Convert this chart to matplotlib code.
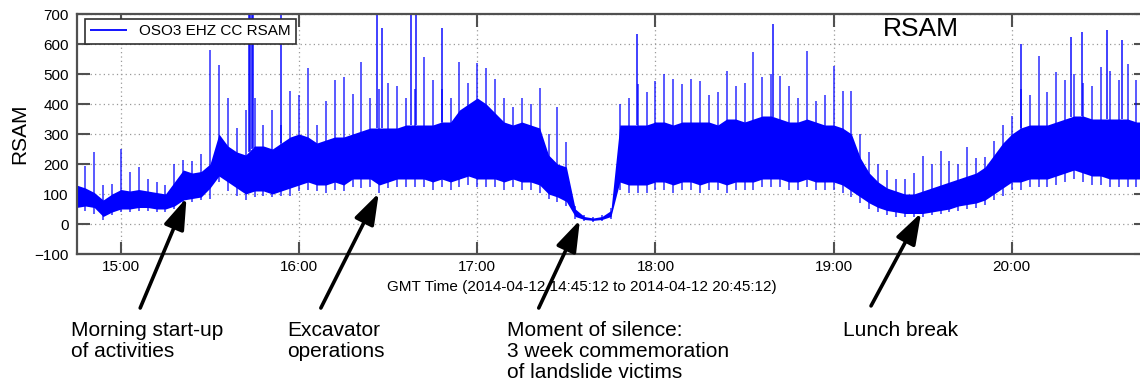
#!/usr/bin/env python3
# -*- coding: utf-8 -*-
"""RSAM of station OSO3 (EHZ CC), 2014-04-12, with activity annotations."""
import numpy as np
import matplotlib
matplotlib.use('Agg')
import matplotlib.pyplot as plt
from matplotlib.ticker import FuncFormatter, MultipleLocator

plt.rcParams['font.family'] = ['Liberation Sans', 'DejaVu Sans']

# ---- data: 3-minute bins, 14:45 .. 20:45 GMT ----
T_START = 14.75          # hours
STEP_MIN = 3

# lower edge of the dense band
band_lo = [
    55, 60, 55, 25, 40,
    50, 50, 55, 55, 50, 50, 60, 80, 85, 90, 120, 160, 140, 120, 100, 110, 110, 100, 110, 120,
    130, 140, 130, 130, 140, 130, 150, 150, 150, 130, 140, 150, 150, 150, 150, 140, 150, 140, 150, 160,
    150, 150, 150, 140, 150, 140, 140, 130, 100, 90, 75, 25, 15, 12, 15, 25, 140, 130, 130, 130,
    140, 140, 130, 140, 140, 130, 140, 140, 130, 140, 140, 140, 150, 150, 150, 140, 140, 150, 140, 140,
    140, 130, 110, 90, 70, 55, 45, 40, 35, 35, 35, 40, 45, 50, 60, 65, 70, 80, 100, 120,
    140, 140, 150, 150, 150, 160, 170, 180, 170, 160, 160, 150, 150, 150, 150, 150,
]
# upper edge of the dense band
band_hi = [
    130, 120, 105, 80, 100,
    115, 110, 115, 110, 105, 100, 140, 180, 170, 175, 200, 300, 260, 240, 230, 260, 260, 250, 270, 290,
    300, 290, 270, 280, 290, 290, 300, 310, 320, 320, 320, 320, 330, 330, 330, 330, 340, 340, 380, 400,
    420, 400, 370, 340, 330, 340, 330, 320, 230, 200, 190, 50, 25, 20, 25, 45, 330, 330, 330, 330,
    340, 340, 330, 340, 340, 340, 340, 330, 350, 350, 340, 350, 360, 360, 350, 340, 340, 350, 340, 330,
    330, 320, 300, 220, 170, 140, 120, 110, 100, 100, 110, 120, 130, 140, 150, 160, 170, 190, 230, 270,
    300, 320, 330, 330, 330, 340, 350, 360, 360, 350, 350, 350, 350, 350, 340, 340,
]
# highest spike in each bin
peak = [
    200, 195, 240, 130, 135,
    250, 175, 190, 150, 140, 130, 200, 215, 210, 235, 580, 530, 420, 320, 380, 420, 330, 380, 330, 445,
    430, 520, 330, 410, 480, 490, 435, 540, 420, 450, 470, 460, 420, 450, 558, 480, 450, 420, 541, 470,
    536, 519, 485, 420, 390, 419, 400, 452, 300, 391, 275, 60, 30, 25, 30, 55, 400, 420, 467, 440,
    478, 500, 483, 467, 483, 478, 430, 440, 511, 460, 470, 572, 489, 500, 494, 461, 420, 578, 411, 430,
    528, 444, 444, 300, 240, 200, 180, 150, 150, 170, 228, 200, 244, 210, 200, 256, 220, 222, 278, 330,
    361, 450, 430, 561, 440, 506, 480, 500, 470, 460, 522, 510, 480, 533, 480, 460,
]
# lowest dip in each bin
trough = [
    40, 45, 35, 15, 30,
    40, 40, 45, 45, 40, 40, 50, 70, 75, 80, 85, 140, 110, 95, 80, 90, 95, 90, 95, 95,
    110, 115, 110, 105, 115, 110, 125, 120, 125, 105, 120, 125, 125, 125, 125, 115, 125, 115, 125, 130,
    125, 125, 125, 115, 125, 115, 115, 105, 85, 75, 60, 18, 10, 8, 10, 18, 115, 105, 105, 105,
    115, 115, 105, 115, 115, 105, 115, 115, 105, 115, 115, 115, 125, 125, 125, 115, 115, 125, 115, 115,
    115, 105, 90, 70, 50, 40, 30, 25, 25, 25, 25, 30, 35, 40, 45, 50, 55, 65, 80, 95,
    115, 115, 125, 125, 125, 130, 140, 150, 140, 130, 130, 125, 125, 125, 125, 125,
]

# isolated tall spikes
spike_time = ['15:43:00', '15:43:30', '15:44:00', '15:44:30', '15:53:54', '16:26:06', '16:27:48',
              '16:37:48', '16:39:30', '16:48:00', '17:53:42', '18:39:42', '20:03:06', '20:19:54',
              '20:23:42', '20:32:06', '20:37:06']
spike_val = [800, 800, 800, 800, 800, 800, 655, 800, 800, 653, 633, 667, 600, 622, 639, 647, 613]

# annotations: (label, arrow head time/value, arrow tail time/value)
notes = ['Morning start-up\nof activities', 'Excavator\noperations',
         'Moment of silence:\n3 week commemoration\nof landslide victims', 'Lunch break']
head_t = [15.368, 16.447, 17.576, 19.491]
head_v = [87, 103, 13, 37]
tail_t = [15.108, 16.122, 17.345, 19.210]
tail_v = [-280, -280, -280, -273]
note_x = [71, 287, 507, 843]     # pixels, left of text
NOTE_TOP = 321                   # pixels, top of first line


def hms(s):
    h, m, sec = (float(p) for p in s.split(':'))
    return h + m / 60 + sec / 3600


W, H = 1140, 391
t = T_START + np.arange(len(band_lo)) * STEP_MIN / 60.0
sp_t = np.array([hms(s) for s in spike_time])

fig = plt.figure(figsize=(W / 100, H / 100), dpi=100)
ax = fig.add_axes([77 / W, 1 - 254 / H, 1069 / W, 240 / H])

blue = '#0000ff'
ax.vlines(t, trough, peak, color=blue, lw=1.3, alpha=0.7, label='OSO3 EHZ CC RSAM')
ax.vlines(sp_t, np.interp(sp_t, t, band_hi), spike_val, color=blue, lw=1.3, alpha=0.8)
ax.fill_between(t, band_lo, band_hi, color=blue, lw=0)

ax.set_xlim(hms('14:45:12'), hms('20:45:12'))
ax.set_ylim(-100, 700)
ax.xaxis.set_major_locator(MultipleLocator(1))
ax.xaxis.set_major_formatter(FuncFormatter(lambda v, _: f'{int(round(v)):02d}:00'))
ax.yaxis.set_major_locator(MultipleLocator(100))

ax.grid(True, ls=(0, (1, 2.5)), color='#9a9a9a', lw=0.9)
ax.set_axisbelow(True)
for s in ax.spines.values():
    s.set_color('#505050'); s.set_linewidth(1.6)
ax.tick_params(direction='in', length=9, width=1.5, color='#505050',
               top=True, right=True, labelsize=11)
ax.tick_params(axis='x', pad=4)
ax.tick_params(axis='y', pad=6)

ax.set_xlabel('GMT Time (2014-04-12 14:45:12 to 2014-04-12 20:45:12)', fontsize=11)
ax.xaxis.set_label_coords((582 - 77) / 1069, (254 - 287) / 240)
ax.xaxis.label.set_verticalalignment('center')
ax.set_ylabel('RSAM', fontsize=15)
ax.yaxis.set_label_coords((20 - 77) / 1069, 0.5)
ax.yaxis.label.set_verticalalignment('center')

ax.text((921 - 77) / 1069, (254 - 29) / 240, 'RSAM', transform=ax.transAxes,
        ha='center', va='center', fontsize=19)

leg = ax.legend(loc='upper left', bbox_to_anchor=(85 / W, 1 - 19 / H),
                bbox_transform=fig.transFigure, borderaxespad=0, fontsize=11,
                handlelength=2.4, handletextpad=0.8, borderpad=0.35,
                fancybox=False, framealpha=1, edgecolor='#303030')
leg.get_frame().set_linewidth(1.2)
for h in leg.legend_handles:
    h.set_alpha(1)

for txt, ht, hv, tt, tv, nx in zip(notes, head_t, head_v, tail_t, tail_v, note_x):
    ax.annotate('', xy=(ht, hv), xytext=(tt, tv), annotation_clip=False,
                arrowprops=dict(arrowstyle='-|>,head_length=0.95,head_width=0.32',
                                mutation_scale=20, lw=2.6, color='black',
                                shrinkA=0, shrinkB=0))
    fig.text(nx / W, 1 - NOTE_TOP / H, txt, ha='left', va='top',
             fontsize=15, linespacing=1.15)

fig.savefig('out.png', dpi=100)
